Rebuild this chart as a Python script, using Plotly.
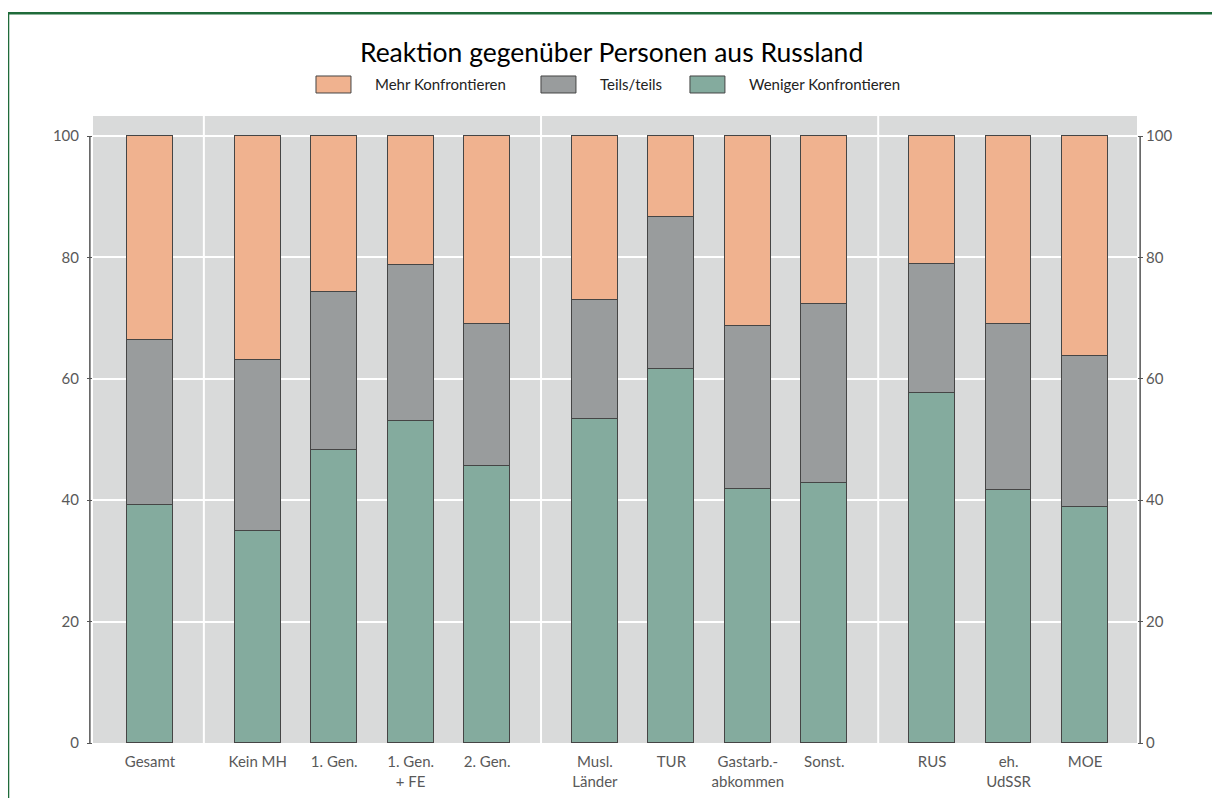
import plotly.graph_objects as go

# categories, grouped as in the source chart
groups = [
    ["Gesamt"],
    ["Kein MH", "1. Gen.", "1. Gen.<br>+ FE", "2. Gen."],
    ["Musl.<br>Länder", "TUR", "Gastarb.-<br>abkommen", "Sonst."],
    ["RUS", "eh.<br>UdSSR", "MOE"],
]

weniger = [39.2, 34.9, 48.3, 53.0, 45.6, 53.4, 61.6, 41.8, 42.8, 57.7, 41.7, 38.9]
teils = [27.2, 28.2, 26.0, 25.7, 23.4, 19.6, 25.1, 26.9, 29.5, 21.2, 27.3, 24.9]
mehr = [33.6, 36.9, 25.7, 21.3, 31.0, 27.0, 13.3, 31.3, 27.7, 21.1, 31.0, 36.2]

y_ticks = [0, 20, 40, 60, 80, 100]

# x positions: one unit per bar, extra gap between groups
labels, xpos, separators = [], [], []
pos = 0.0
for gi, g in enumerate(groups):
    if gi > 0:
        separators.append(pos - 0.295)
        pos += 0.41
    for lab in g:
        labels.append(lab)
        xpos.append(pos)
        pos += 1.0

outline = dict(color="#454545", width=1)
series = [
    ("Weniger Konfrontieren", weniger, "#84ab9e"),
    ("Teils/teils", teils, "#999c9d"),
    ("Mehr Konfrontieren", mehr, "#f0b28f"),
]

fig = go.Figure()
for name, vals, col in series:
    fig.add_trace(go.Bar(x=xpos, y=vals, name=name, width=0.6,
                         marker=dict(color=col, line=outline)))
# invisible trace so the right axis is drawn
fig.add_trace(go.Scatter(x=[xpos[0]], y=[0], yaxis="y2", mode="markers",
                         marker=dict(opacity=0), showlegend=False, hoverinfo="skip"))

shapes = []
for s in separators:
    shapes.append(dict(type="line", xref="x", yref="paper", x0=s, x1=s, y0=0, y1=1,
                       line=dict(color="white", width=2), layer="below"))
# axis lines from 0 to 100 only
for xp in (-0.003, 1.003):
    shapes.append(dict(type="line", xref="paper", yref="y", x0=xp, x1=xp, y0=0, y1=100,
                       line=dict(color="#555555", width=1.5)))
# green frame (left and top)
shapes.append(dict(type="path", xref="paper", yref="paper",
                   path="M -0.0814 -0.2 L -0.0814 1.164 L 1.2 1.164",
                   line=dict(color="#1f6b3a", width=2.5)))

# legend drawn by hand: wide swatches like the original
legend_x = [0.2136, 0.4291, 0.5718]
annotations = []
for (name, vals, col), lx in zip(reversed(series), legend_x):
    shapes.append(dict(type="rect", xref="paper", yref="paper", x0=lx, x1=lx + 0.0335,
                       y0=1.0367, y1=1.0638, fillcolor=col,
                       line=dict(color="#454545", width=1)))
    annotations.append(dict(text=name, xref="paper", yref="paper", x=lx + 0.0546,
                            y=1.051, xanchor="left", yanchor="middle", showarrow=False,
                            font=dict(size=15, color="#222222")))

tickfont = dict(family="Lato, sans-serif", size=15, color="#595959")
fig.update_layout(
    width=1212, height=790,
    barmode="stack",
    showlegend=False,
    paper_bgcolor="white",
    plot_bgcolor="#d9dada",
    margin=dict(l=85, r=83, t=108, b=55, autoexpand=False),
    font=dict(family="Lato, sans-serif"),
    title=dict(text="Reaktion gegenüber Personen aus Russland", x=0.498, xanchor="center",
               y=0.944, yanchor="middle", yref="container",
               font=dict(size=26.5, color="black", family="Lato, sans-serif")),
    xaxis=dict(tickvals=xpos, ticktext=labels, range=[-0.745, xpos[-1] + 0.68],
               showgrid=False, zeroline=False, ticks="", tickfont=tickfont,
               tickangle=0, ticklabelstandoff=8),
    yaxis=dict(range=[0, 103.3], tickvals=y_ticks, showgrid=True, gridcolor="white",
               gridwidth=2, zeroline=False, ticks="outside", ticklen=5,
               tickcolor="#555555", tickfont=tickfont, ticklabelstandoff=5),
    yaxis2=dict(range=[0, 103.3], tickvals=y_ticks, overlaying="y", side="right",
                showgrid=False, zeroline=False, ticks="outside", ticklen=5,
                tickcolor="#555555", tickfont=tickfont),
    shapes=shapes,
    annotations=annotations,
    bargap=0,
)

fig.write_html("out.html")
